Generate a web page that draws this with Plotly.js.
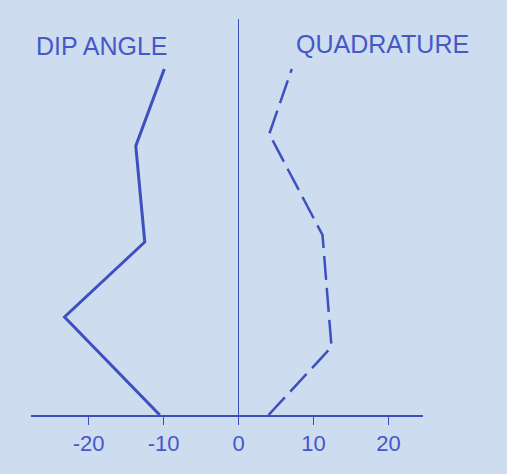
<!DOCTYPE html>
<html>
<head>
<meta charset="utf-8">
<script src="https://cdn.plot.ly/plotly-3.0.1.min.js"></script>
<style>html,body{margin:0;padding:0;background:#cddcee;}</style>
</head>
<body>
<div id="chart" style="width:507px;height:474px;"></div>
<script>
// Dip angle profile (degrees) vs. station position (arbitrary units, 0 at bottom)
const dipStation = [0, 9.8, 17.3, 26.9, 34.6];
const dipAngle   = [-10.5, -23.2, -12.5, -13.7, -9.9];
// Quadrature profile (%) vs. station position
const quadStation = [0, 6.8, 18.0, 28.1, 34.6];
const quadrature  = [4.0, 12.4, 11.2, 4.1, 7.1];
// Axis ticks
const tickVals  = [-20, -10, 0, 10, 20];
const tickTexts = ['-20', '-10', '0', '10', '20'];

const ink = '#3c50c0';
const textInk = '#4558c8';
const traces = [
  {x: dipAngle, y: dipStation, mode: 'lines', name: 'DIP ANGLE',
   line: {color: ink, width: 3}},
  {x: quadrature, y: quadStation, mode: 'lines', name: 'QUADRATURE',
   line: {color: ink, width: 2.5, dash: '24px,8px'}}
];
const pw = 507 - 31 - 84, ph = 474 - 19 - 59;
function px(xp){return (xp - 31) / pw;}
function py(yp){return (474 - 59 - yp) / ph;}
const layout = {
  width: 507, height: 474,
  margin: {l: 31, r: 84, t: 19, b: 59},
  paper_bgcolor: '#cddcee', plot_bgcolor: '#cddcee',
  showlegend: false,
  font: {family: 'Liberation Sans, Arial, sans-serif', color: textInk},
  xaxis: {range: [-27.67, 24.6], tickvals: tickVals, ticktext: tickTexts,
    showgrid: false, zeroline: true, zerolinecolor: ink, zerolinewidth: 1.8,
    showline: true, linecolor: ink, linewidth: 2,
    ticks: 'outside', ticklen: 8, tickwidth: 1.5, tickcolor: ink,
    tickfont: {size: 22, color: textInk}, fixedrange: true},
  yaxis: {range: [0, 39.6], showgrid: false, zeroline: false, showline: false,
    showticklabels: false, ticks: '', fixedrange: true},
  annotations: [
    {text: 'DIP ANGLE', x: px(102), y: py(46), xref: 'paper', yref: 'paper',
     xanchor: 'center', yanchor: 'middle', showarrow: false,
     font: {size: 25, color: textInk}},
    {text: 'QUADRATURE', x: px(382), y: py(44), xref: 'paper', yref: 'paper',
     xanchor: 'center', yanchor: 'middle', showarrow: false,
     font: {size: 25, color: textInk}}
  ]
};
Plotly.newPlot('chart', traces, layout, {displayModeBar: false, staticPlot: true});
</script>
</body>
</html>
